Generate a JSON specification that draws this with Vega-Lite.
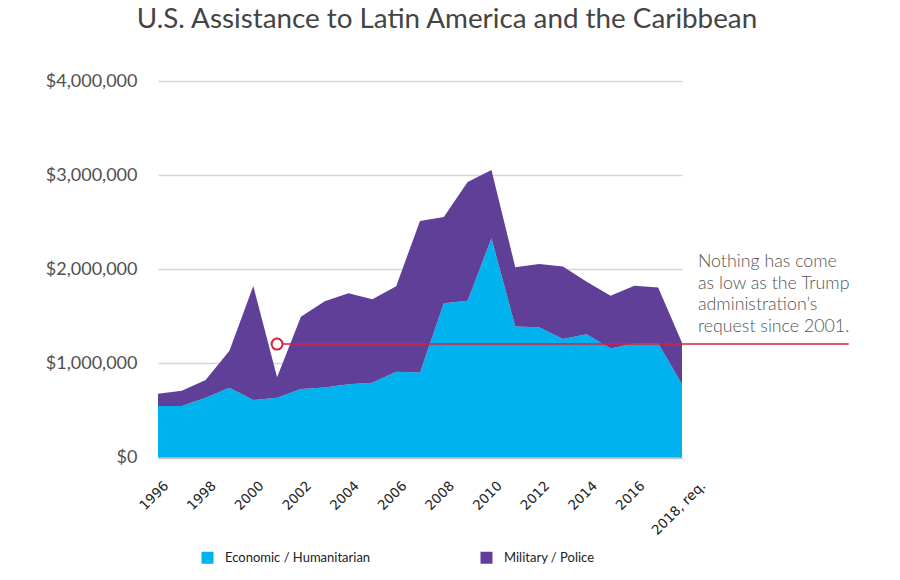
{
  "$schema": "https://vega.github.io/schema/vega-lite/v6.json",
  "autosize": "none",
  "width": 524,
  "height": 376.5,
  "padding": {"left": 158, "top": 81, "right": 218, "bottom": 122},
  "background": "#ffffff",
  "title": {
    "text": "U.S. Assistance to Latin America and the Caribbean",
    "font": "Lato",
    "fontSize": 27.8,
    "fontWeight": "normal",
    "color": "#444444",
    "anchor": "middle",
    "dx": 27,
    "offset": 38
  },
  "datasets": {
    "aid": [
      {"year": 1996, "type": "Economic / Humanitarian", "amount": 547000},
      {"year": 1997, "type": "Economic / Humanitarian", "amount": 547000},
      {"year": 1998, "type": "Economic / Humanitarian", "amount": 636000},
      {"year": 1999, "type": "Economic / Humanitarian", "amount": 742000},
      {"year": 2000, "type": "Economic / Humanitarian", "amount": 611000},
      {"year": 2001, "type": "Economic / Humanitarian", "amount": 636000},
      {"year": 2002, "type": "Economic / Humanitarian", "amount": 727000},
      {"year": 2003, "type": "Economic / Humanitarian", "amount": 745000},
      {"year": 2004, "type": "Economic / Humanitarian", "amount": 777000},
      {"year": 2005, "type": "Economic / Humanitarian", "amount": 795000},
      {"year": 2006, "type": "Economic / Humanitarian", "amount": 912000},
      {"year": 2007, "type": "Economic / Humanitarian", "amount": 903000},
      {"year": 2008, "type": "Economic / Humanitarian", "amount": 1638000},
      {"year": 2009, "type": "Economic / Humanitarian", "amount": 1665000},
      {"year": 2010, "type": "Economic / Humanitarian", "amount": 2330000},
      {"year": 2011, "type": "Economic / Humanitarian", "amount": 1392000},
      {"year": 2012, "type": "Economic / Humanitarian", "amount": 1384000},
      {"year": 2013, "type": "Economic / Humanitarian", "amount": 1259000},
      {"year": 2014, "type": "Economic / Humanitarian", "amount": 1309000},
      {"year": 2015, "type": "Economic / Humanitarian", "amount": 1159000},
      {"year": 2016, "type": "Economic / Humanitarian", "amount": 1214000},
      {"year": 2017, "type": "Economic / Humanitarian", "amount": 1214000},
      {"year": 2018, "type": "Economic / Humanitarian", "amount": 778000},
      {"year": 1996, "type": "Military / Police", "amount": 130000},
      {"year": 1997, "type": "Military / Police", "amount": 161000},
      {"year": 1998, "type": "Military / Police", "amount": 188000},
      {"year": 1999, "type": "Military / Police", "amount": 393000},
      {"year": 2000, "type": "Military / Police", "amount": 1212000},
      {"year": 2001, "type": "Military / Police", "amount": 216000},
      {"year": 2002, "type": "Military / Police", "amount": 769000},
      {"year": 2003, "type": "Military / Police", "amount": 915000},
      {"year": 2004, "type": "Military / Police", "amount": 968000},
      {"year": 2005, "type": "Military / Police", "amount": 886000},
      {"year": 2006, "type": "Military / Police", "amount": 908000},
      {"year": 2007, "type": "Military / Police", "amount": 1610000},
      {"year": 2008, "type": "Military / Police", "amount": 916000},
      {"year": 2009, "type": "Military / Police", "amount": 1263000},
      {"year": 2010, "type": "Military / Police", "amount": 725000},
      {"year": 2011, "type": "Military / Police", "amount": 629000},
      {"year": 2012, "type": "Military / Police", "amount": 671000},
      {"year": 2013, "type": "Military / Police", "amount": 769000},
      {"year": 2014, "type": "Military / Police", "amount": 559000},
      {"year": 2015, "type": "Military / Police", "amount": 560000},
      {"year": 2016, "type": "Military / Police", "amount": 612000},
      {"year": 2017, "type": "Military / Police", "amount": 591000},
      {"year": 2018, "type": "Military / Police", "amount": 442000}
    ],
    "ref": [
      {"year": 2001, "yearEnd": 2025, "amount": 1205000}
    ],
    "note": [
      {"year": 2018.67, "amount": 2025000, "label": "Nothing has come\nas low as the Trump\nadministration’s\nrequest since 2001."}
    ]
  },
  "layer": [
    {
      "data": {"name": "aid"},
      "mark": {"type": "area", "opacity": 1},
      "encoding": {
        "x": {
          "field": "year",
          "type": "quantitative",
          "scale": {"domain": [1996, 2018], "nice": false, "zero": false},
          "axis": {
            "title": null,
            "values": [1996, 1998, 2000, 2002, 2004, 2006, 2008, 2010, 2012, 2014, 2016, 2018],
            "labelExpr": "datum.value == 2018 ? '2018, req.' : format(datum.value, 'd')",
            "labelAngle": -45,
            "labelAlign": "right",
            "labelBaseline": "top",
            "labelFont": "DejaVu Sans",
            "labelFontSize": 13.5,
            "labelColor": "#222222",
            "labelPadding": 21,
            "labelOffset": {"condition": {"test": "datum.value == 2018", "value": 16}, "value": 3},
            "ticks": false,
            "grid": false,
            "domain": true,
            "domainColor": "#b3b3b3",
            "domainWidth": 1,
            "labelOverlap": false
          }
        },
        "y": {
          "field": "amount",
          "type": "quantitative",
          "stack": "zero",
          "scale": {"domain": [0, 4000000], "nice": false},
          "axis": {
            "title": null,
            "values": [0, 1000000, 2000000, 3000000, 4000000],
            "format": "$,.0f",
            "labelFont": "Lato",
            "labelFontSize": 18,
            "labelColor": "#505050",
            "labelPadding": 21,
            "ticks": false,
            "domain": false,
            "grid": true,
            "gridColor": "#d6d6d6",
            "gridWidth": 1.5
          }
        },
        "color": {
          "field": "type",
          "type": "nominal",
          "scale": {
            "domain": ["Economic / Humanitarian", "Military / Police"],
            "range": ["#00b3ef", "#5f3f98"]
          },
          "legend": {
            "title": null,
            "orient": "none",
            "direction": "horizontal",
            "legendX": 43,
            "legendY": 470,
            "padding": 0,
            "symbolType": "square",
            "symbolSize": 144,
            "symbolStrokeWidth": 0,
            "labelFont": "Lato",
            "labelFontSize": 13,
            "labelColor": "#222222",
            "labelOffset": 11,
            "columnPadding": 109
          }
        },
        "order": {"field": "type", "sort": "ascending"}
      }
    },
    {
      "data": {"name": "ref"},
      "mark": {"type": "rule", "color": "#dc1e3c", "strokeWidth": 1.5},
      "encoding": {
        "x": {"field": "year", "type": "quantitative"},
        "x2": {"field": "yearEnd"},
        "y": {"field": "amount", "type": "quantitative"}
      }
    },
    {
      "data": {"name": "ref"},
      "mark": {"type": "point", "shape": "circle", "filled": false, "fill": "#ffffff", "fillOpacity": 1, "stroke": "#dc1e3c", "strokeWidth": 2, "size": 120, "opacity": 1},
      "encoding": {
        "x": {"field": "year", "type": "quantitative"},
        "y": {"field": "amount", "type": "quantitative"}
      }
    },
    {
      "data": {"name": "note"},
      "mark": {"type": "text", "align": "left", "baseline": "alphabetic", "font": "Lato", "fontSize": 17.8, "fontWeight": 300, "color": "#555555", "lineBreak": "\n", "lineHeight": 21.8},
      "encoding": {
        "x": {"field": "year", "type": "quantitative"},
        "y": {"field": "amount", "type": "quantitative"},
        "text": {"field": "label"}
      }
    }
  ],
  "config": {
    "view": {"stroke": null}
  }
}
